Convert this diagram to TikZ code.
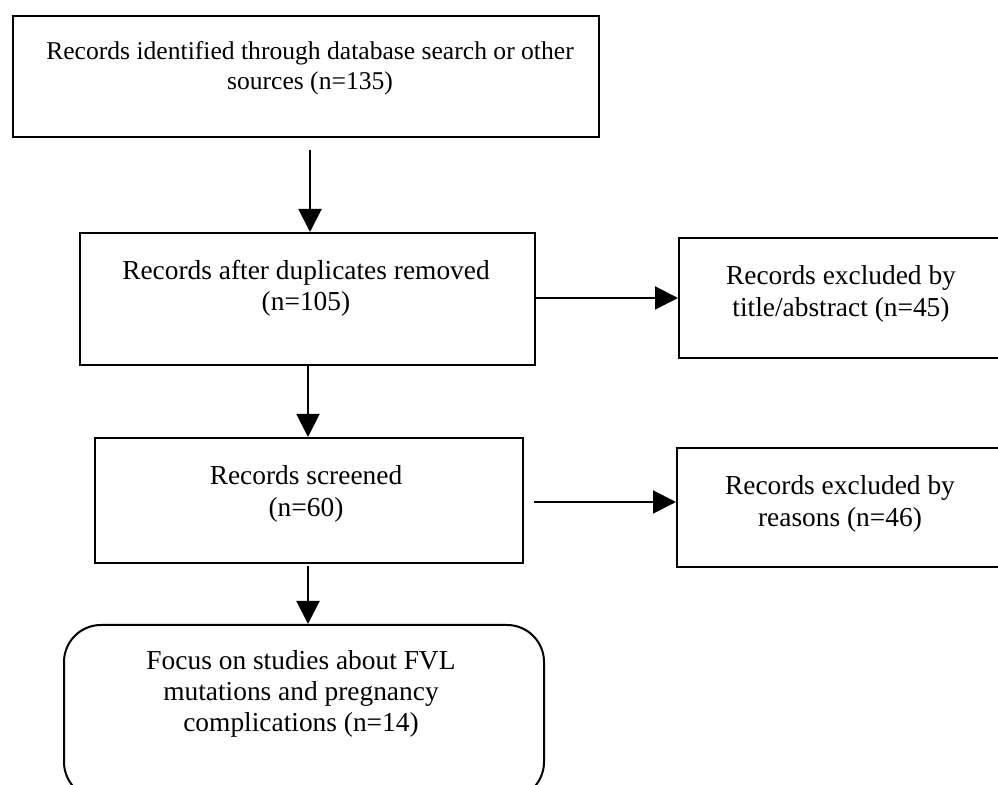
\documentclass[tikz,border=0pt]{standalone}
\usepackage{fontspec}
\setmainfont{Liberation Serif}
\usetikzlibrary{arrows.meta}
\begin{document}
\begin{tikzpicture}[x=0.5pt,y=-0.5pt,
  box/.style={draw,line width=1pt,inner sep=0pt,anchor=north west},
  lbl/.style={align=center,font=\fontsize{13.7}{15.7}\selectfont,inner sep=0pt},
  arr/.style={line width=1pt,-{Triangle[width=11.5pt,length=11.5pt]}}]
\useasboundingbox (0,0) rectangle (998,785);
\clip (0,0) rectangle (998,785);
\node[box,minimum width=293pt,minimum height=60.5pt] (b1) at (12,15) {};
\node[box,minimum width=227.5pt,minimum height=66pt] (b2) at (79,232) {};
\node[box,minimum width=163pt,minimum height=60pt] (b3) at (678,237) {};
\node[box,minimum width=214pt,minimum height=62.5pt] (b4) at (94,437) {};
\node[box,minimum width=164pt,minimum height=59.5pt] (b5) at (676,447) {};
\node[box,rounded corners=18.5pt,minimum width=240pt,minimum height=87pt] (b6) at (63,624) {};
\node[lbl,font=\fontsize{12.8}{15}\selectfont] (t1) at (310,68) {Records identified through database search or other\\sources (n=135)};
\node[lbl] (t2) at (306,288) {Records after duplicates removed\\(n=105)};
\node[lbl] (t3) at (841,294) {Records excluded by\\title/abstract (n=45)};
\node[lbl] (t4) at (306,494) {Records screened\\(n=60)};
\node[lbl] (t5) at (840,504) {Records excluded by\\reasons (n=46)};
\node[lbl] (t6) at (301,694) {Focus on studies about FVL\\mutations and pregnancy\\complications (n=14)};
\coordinate (a1) at (310,150);
\draw[arr] (a1) -- (a1 |- b2.north);
\coordinate (a2) at (308,366);
\draw[arr] (a2) -- (a2 |- b4.north);
\coordinate (a3) at (308,566);
\draw[arr] (a3) -- (a3 |- b6.north);
\coordinate (a4) at (536,298);
\draw[arr] (a4) -- (a4 -| b3.west);
\coordinate (a5) at (534,502);
\draw[arr] (a5) -- (a5 -| b5.west);
\end{tikzpicture}
\end{document}
